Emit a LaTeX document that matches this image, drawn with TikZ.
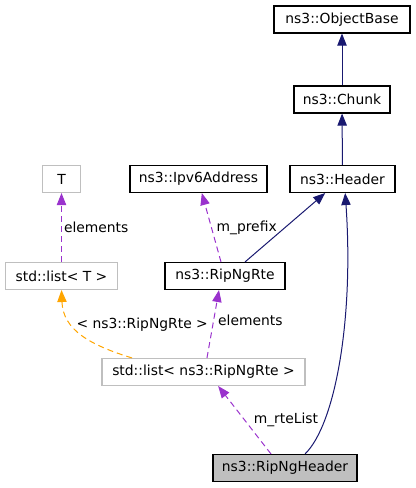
\documentclass[tikz,border=0pt]{standalone}
\usepackage{fontspec}
\setmainfont{DejaVu Sans}
\usetikzlibrary{arrows.meta}
\definecolor{inhcol}{RGB}{25,25,112}
\definecolor{usecol}{RGB}{154,50,205}
\definecolor{tplcol}{RGB}{255,165,0}
\definecolor{undoc}{RGB}{191,191,191}
\tikzset{
	cls/.style={draw=black,line width=0.8pt,fill=white,inner sep=0pt,minimum height=20.25pt},
	ucls/.style={cls,draw=undoc},
	tip/.style={-{Triangle[length=9pt,width=7pt]}},
	inh/.style={draw=inhcol,line width=0.75pt,tip},
	rel/.style={draw=usecol,line width=0.75pt,dash pattern=on 4.5pt off 3pt,tip},
	tpl/.style={draw=tplcol,line width=0.75pt,dash pattern=on 4.5pt off 3pt,tip},
	lbl/.style={inner sep=1.5pt}
}

\begin{document}
\begin{tikzpicture}[x=0.75pt,y=-0.75pt,font=\fontsize{10.4}{12}\selectfont]
	\useasboundingbox (0,0) rectangle (416,488);
	\node[cls,minimum width=102pt] (objbase) at (342,19.5) {ns3::ObjectBase};
	\node[cls,minimum width=72pt] (chunk) at (342,99.5) {ns3::Chunk};
	\node[cls,minimum width=78.75pt] (hdr) at (342.5,179) {ns3::Header};
	\node[ucls,minimum width=28.5pt] (t) at (61.5,179) {T};
	\node[cls,minimum width=102.75pt] (ipv6) at (198.5,179) {ns3::Ipv6Address};
	\node[ucls,minimum width=84pt] (lt) at (61.5,276) {std::list< T >};
	\node[cls,minimum width=90pt] (rte) at (225,276) {ns3::RipNgRte};
	\node[ucls,minimum width=152.25pt] (lrte) at (203.5,372) {std::list< ns3::RipNgRte >};
	\node[cls,fill=undoc,minimum width=108pt] (rh) at (285,468) {ns3::RipNgHeader};
	%
	\draw [inh] (chunk) to[] (objbase);
	\draw [inh] (hdr) to[] (chunk);
	\draw [inh] ([xshift=15pt]rte.north) to[] ([xshift=-13pt]hdr.south);
	\draw [inh] ([xshift=15pt]rh.north) .. controls (335,425) and (354,320) .. ([xshift=2pt]hdr.south);
	\draw [rel] (lt.north) to[] node[lbl,right]{elements} (t.south);
	\draw [rel] ([xshift=-3pt]rte.north) to[] node[lbl,right,xshift=2pt]{m\_prefix} ([xshift=2.5pt]ipv6.south);
	\draw [rel] ([xshift=2.6pt]lrte.north) to[] node[lbl,right,xshift=2pt,yshift=2.5pt]{elements} ([xshift=-4.5pt]rte.south);
	\draw [tpl] ([xshift=-53.6pt]lrte.north) .. controls (90,345) and (63,330) .. (lt.south)
		node[lbl,pos=0.45,above right,xshift=-8.5pt,yshift=2.5pt]{< ns3::RipNgRte >};
	\draw [rel] ([xshift=-10.5pt]rh.north) to[] node[lbl,right,xshift=5pt]{m\_rteList} ([xshift=11pt]lrte.south);
\end{tikzpicture}
\end{document}
